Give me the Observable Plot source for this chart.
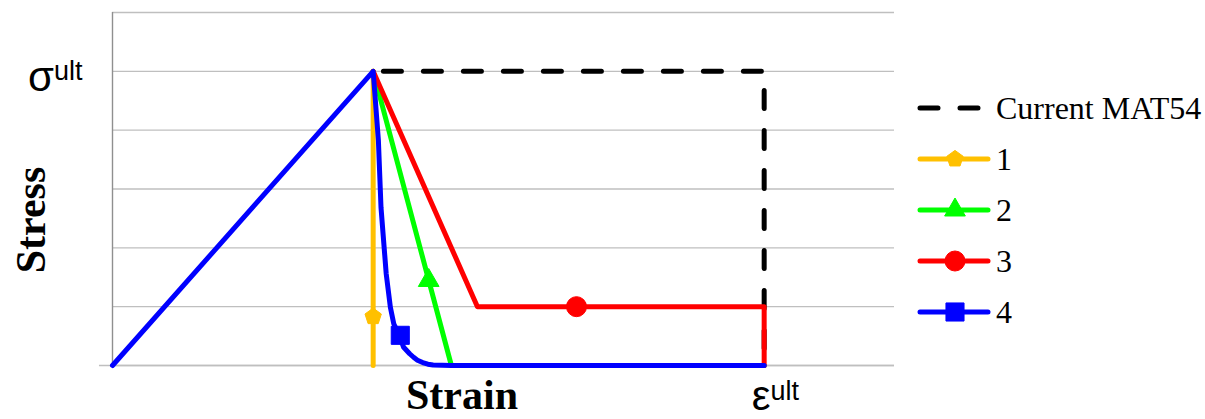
<!DOCTYPE html>
<html><head><meta charset="utf-8">
<script src="https://cdn.jsdelivr.net/npm/d3@7"></script>
<script src="https://cdn.jsdelivr.net/npm/@observablehq/plot@0.6"></script>
<style>body{margin:0;background:#fff}</style>
</head><body><div id="chart"></div>
<script>
// ---- data ----
const seriesNames = ["Current MAT54", "1", "2", "3", "4"];
const seriesColors = ["#000000", "#FFC000", "#00FF00", "#FF0000", "#0000FF"];
const mat54X = [1, 2.5, 2.5];
const mat54Y = [5, 5, 0];
const s1X = [1, 1];
const s1Y = [5, 0];
const s2X = [1, 1.3, 2.5];
const s2Y = [5, 0, 0];
const s3X = [1, 1.4, 2.5, 2.5];
const s3Y = [5, 1, 1, 0];
const s4X = [0, 1, 1.02, 1.03, 1.05, 1.066, 1.079, 1.10, 1.117, 1.14, 1.155, 1.17, 1.19, 1.21, 1.23, 1.3, 2.5];
const s4Y = [0, 5, 3.83, 2.69, 1.56, 0.99, 0.71, 0.51, 0.31, 0.2, 0.14, 0.09, 0.05, 0.022, 0.008, 0, 0];
const markerX = [1, 1.213, 1.78, 1.104];
const markerY = [0.83, 1.445, 1.0, 0.513];
const yTicks = [0, 1, 2, 3, 4, 5, 6];
const xTickValue = 2.5, xTickLabel = "ε";
const yTickValue = 5, yTickLabel = "σ";
const tickSup = "ult";
const xLabel = "Strain", yLabel = "Stress";

// ---- build ----
const toRows = (xs, ys, name) => xs.map((x, i) => ({series: name, x, y: ys[i]}));
const lines = [
  toRows(mat54X, mat54Y, seriesNames[0]),
  toRows(s1X, s1Y, seriesNames[1]),
  toRows(s2X, s2Y, seriesNames[2]),
  toRows(s3X, s3Y, seriesNames[3]),
  toRows(s4X, s4Y, seriesNames[4])
];
const pentagon = {
  draw(ctx, size) {
    const R = 8.6;
    for (let k = 0; k < 5; k++) {
      const a = -Math.PI / 2 + k * 2 * Math.PI / 5;
      const px = R * Math.cos(a), py = R * Math.sin(a);
      if (k === 0) ctx.moveTo(px, py); else ctx.lineTo(px, py);
    }
    ctx.closePath();
  }
};
const symbols = [pentagon, d3.symbolTriangle, d3.symbolCircle, d3.symbolSquare];
const symbolR = [8.6, 7.7, 10, 10.2];
const lineW = 5;

const marks = [
  Plot.gridY(yTicks, {stroke: "#bfbfbf", strokeOpacity: 1, strokeWidth: 1.4}),
  Plot.ruleY([0], {x1: -0.05, x2: 3, stroke: "#bfbfbf", strokeWidth: 1.4}),
  Plot.ruleX([0], {y1: 0, y2: 6, stroke: "#8f8f8f", strokeWidth: 1.4}),
  Plot.line(lines[0], {x: "x", y: "y", stroke: seriesColors[0], strokeWidth: 5,
    strokeDasharray: "18,22", strokeDashoffset: 29.75, strokeLinecap: "round", strokeLinejoin: "round"})
];
for (let i = 1; i <= 4; i++) {
  marks.push(Plot.line(lines[i], {x: "x", y: "y", stroke: seriesColors[i], strokeWidth: lineW,
    strokeLinecap: "round", strokeLinejoin: "round"}));
}
for (let i = 0; i < 4; i++) {
  marks.push(Plot.dot([{x: markerX[i], y: markerY[i]}], {x: "x", y: "y", r: symbolR[i],
    symbol: symbols[i], fill: seriesColors[i + 1], stroke: seriesColors[i + 1], strokeWidth: 1}));
}

const plot = Plot.plot({
  width: 1205, height: 419,
  marginLeft: 112, marginRight: 311, marginTop: 12, marginBottom: 54,
  x: {domain: [0, 3], axis: null},
  y: {domain: [0, 6], axis: null},
  style: {background: "#fff", overflow: "visible"},
  marks
});
document.getElementById("chart").appendChild(plot);

// ---- labels and legend ----
const svg = d3.select(plot);
const sx = plot.scale("x"), sy = plot.scale("y");
const sans = "'Liberation Sans', Arial, sans-serif";
const serif = "'Liberation Serif', 'Times New Roman', serif";

const yt = svg.append("text").attr("x", 28).attr("y", sy.apply(yTickValue) + 20)
  .attr("text-anchor", "start")
  .attr("font-family", sans).attr("font-size", 42).attr("fill", "#000");
yt.append("tspan").text(yTickLabel);
yt.append("tspan").attr("font-size", 27).attr("dy", -11).text(tickSup);

const xt = svg.append("text").attr("x", sx.apply(xTickValue) - 12).attr("y", 410)
  .attr("text-anchor", "start")
  .attr("font-family", sans).attr("font-size", 42).attr("fill", "#000");
xt.append("tspan").text(xTickLabel);
xt.append("tspan").attr("font-size", 27).attr("dy", -10).text(tickSup);

svg.append("text").attr("x", 462).attr("y", 409).attr("text-anchor", "middle")
  .attr("font-family", serif).attr("font-weight", "bold").attr("font-size", 42).attr("fill", "#000").text(xLabel);
svg.append("text").attr("transform", "translate(45,220) rotate(-90)").attr("text-anchor", "middle")
  .attr("font-family", serif).attr("font-weight", "bold").attr("font-size", 42).attr("fill", "#000").text(yLabel);

const lg = svg.append("g");
const legY = [108, 159, 210, 261, 312];
seriesNames.forEach((name, i) => {
  const y = legY[i];
  const ln = lg.append("line").attr("x1", 920).attr("x2", 988).attr("y1", y).attr("y2", y)
    .attr("stroke", seriesColors[i]).attr("stroke-linecap", "round")
    .attr("stroke-width", lineW);
  if (i === 0) ln.attr("stroke-dasharray", "18,22").attr("x1", 920).attr("x2", 978);
  if (i > 0) {
    const r = symbolR[i - 1];
    lg.append("path").attr("transform", `translate(955,${y})`)
      .attr("d", d3.symbol(symbols[i - 1], Math.PI * r * r)())
      .attr("fill", seriesColors[i]).attr("stroke", seriesColors[i]).attr("stroke-width", 1);
  }
  lg.append("text").attr("x", 996).attr("y", y + 11).attr("text-anchor", "start")
    .attr("font-family", serif).attr("font-size", 32).attr("fill", "#000").text(name);
});
</script></body></html>
